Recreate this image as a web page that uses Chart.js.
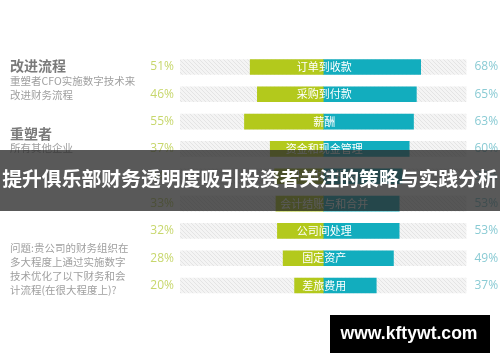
<!DOCTYPE html>
<html><head><meta charset="utf-8">
<script src="https://cdn.jsdelivr.net/npm/chart.js@4"></script>
<style>html,body{margin:0;padding:0;background:#fff;}#wrap{width:500px;height:362px;position:relative;}</style>
</head><body><div id="wrap"><canvas id="c" width="500" height="362"></canvas></div>
<script>
const categories = ['订单到收款','采购到付款','薪酬','资金和现金管理','外部财务报告','会计结账与和合并','公司间处理','固定资产','差旅费用'];
const otherValues = [51,46,55,37,34,33,32,28,20];     // 所有其他企业 (left, green)
const reshaperValues = [68,65,63,60,55,53,53,49,37];  // 重塑者 (right, teal)
const axisMin = -100, axisMax = 100;
const titleText = '提升俱乐部财务透明度吸引投资者关注的策略与实践分析';
const watermarkText = 'www.kftywt.com';

const GREEN = '#b3c91c', TEAL = '#12adbe';
const GREEN_TXT = '#c7d76c', TEAL_TXT = '#8acbd4';
const CJK = '"Noto Sans CJK SC","Noto Sans",sans-serif';

function hatch(){
  const p = document.createElement('canvas'); p.width = 4; p.height = 4;
  const g = p.getContext('2d');
  g.fillStyle = '#f4f4f4'; g.fillRect(0,0,4,4);
  g.strokeStyle = '#e4e4e4'; g.lineWidth = 1;
  g.beginPath(); g.moveTo(0,0); g.lineTo(4,4); g.moveTo(-1,3); g.lineTo(1,5); g.moveTo(3,-1); g.lineTo(5,1); g.stroke();
  return document.getElementById('c').getContext('2d').createPattern(p,'repeat');
}

const textPlugin = {
  id: 'texts',
  afterDatasetsDraw(chart){
    const ctx = chart.ctx, xs = chart.scales.x, ys = chart.scales.y, ca = chart.chartArea;
    ctx.save();
    ctx.textBaseline = 'middle';
    categories.forEach((c,i)=>{
      const y = ys.getPixelForValue(i);
      ctx.font = '11px ' + CJK; ctx.fillStyle = '#fff'; ctx.textAlign = 'center';
      ctx.fillText(c, xs.getPixelForValue(0) + 1, y);
      ctx.font = '12px "Open Sans",sans-serif';
      ctx.fillStyle = GREEN_TXT; ctx.textAlign = 'right';
      ctx.fillText(otherValues[i] + '%', ca.left - 6, y);
      ctx.fillStyle = TEAL_TXT; ctx.textAlign = 'left';
      ctx.fillText(reshaperValues[i] + '%', ca.right + 8, y);
    });
    // left side texts
    ctx.textAlign = 'left';
    ctx.fillStyle = '#7a7a7a'; ctx.font = 'bold 14px ' + CJK;
    ctx.fillText('改进流程', 10, 66);
    ctx.fillText('重塑者', 10, 134);
    ctx.fillStyle = '#a0a0a0'; ctx.font = '10.5px ' + CJK;
    ctx.fillText('重塑者CFO实施数字技术来', 10, 81);
    ctx.fillText('改进财务流程', 10, 95);
    ctx.fillText('所有其他企业', 10, 148);
    const q = ['问题:贵公司的财务组织在','多大程度上通过实施数字','技术优化了以下财务和会','计流程(在很大程度上)?'];
    q.forEach((t,k)=>ctx.fillText(t, 10, 248 + k*14));
    // banner overlay
    ctx.fillStyle = 'rgba(42,42,42,0.78)';
    ctx.fillRect(0, 150, 500, 61);
    ctx.fillStyle = '#fff'; ctx.textAlign = 'center';
    let fs = 20; ctx.font = 'bold ' + fs + 'px ' + CJK;
    fs = fs * 496 / ctx.measureText(titleText).width;
    ctx.font = 'bold ' + fs.toFixed(2) + 'px ' + CJK;
    ctx.fillText(titleText, 250, 178);
    // watermark
    ctx.fillStyle = '#000'; ctx.fillRect(330, 315, 160, 38);
    ctx.fillStyle = '#fff';
    let ws = 18; ctx.font = 'bold ' + ws + 'px "Liberation Sans",Arial,sans-serif';
    ws = ws * 137 / ctx.measureText(watermarkText).width;
    ctx.font = 'bold ' + ws.toFixed(2) + 'px "Liberation Sans",Arial,sans-serif';
    ctx.fillText(watermarkText, 409, 334.5);
    ctx.restore();
  }
};

new Chart(document.getElementById('c'), {
  type: 'bar',
  data: {
    labels: categories,
    datasets: [
      { data: otherValues.map(v=>-v), backgroundColor: GREEN, grouped: false, barThickness: 15 },
      { data: reshaperValues, backgroundColor: TEAL, grouped: false, barThickness: 15 },
      { data: categories.map(()=>[axisMin, axisMax]), backgroundColor: hatch(), grouped: false, barThickness: 15 }
    ]
  },
  options: {
    indexAxis: 'y',
    responsive: false,
    animation: false,
    layout: { padding: { left: 180, right: 33.5, top: 53.3, bottom: 62.8 } },
    scales: {
      x: { min: axisMin, max: axisMax, display: false },
      y: { display: false }
    },
    plugins: { legend: { display: false }, tooltip: { enabled: false } }
  },
  plugins: [textPlugin]
});
</script></body></html>
